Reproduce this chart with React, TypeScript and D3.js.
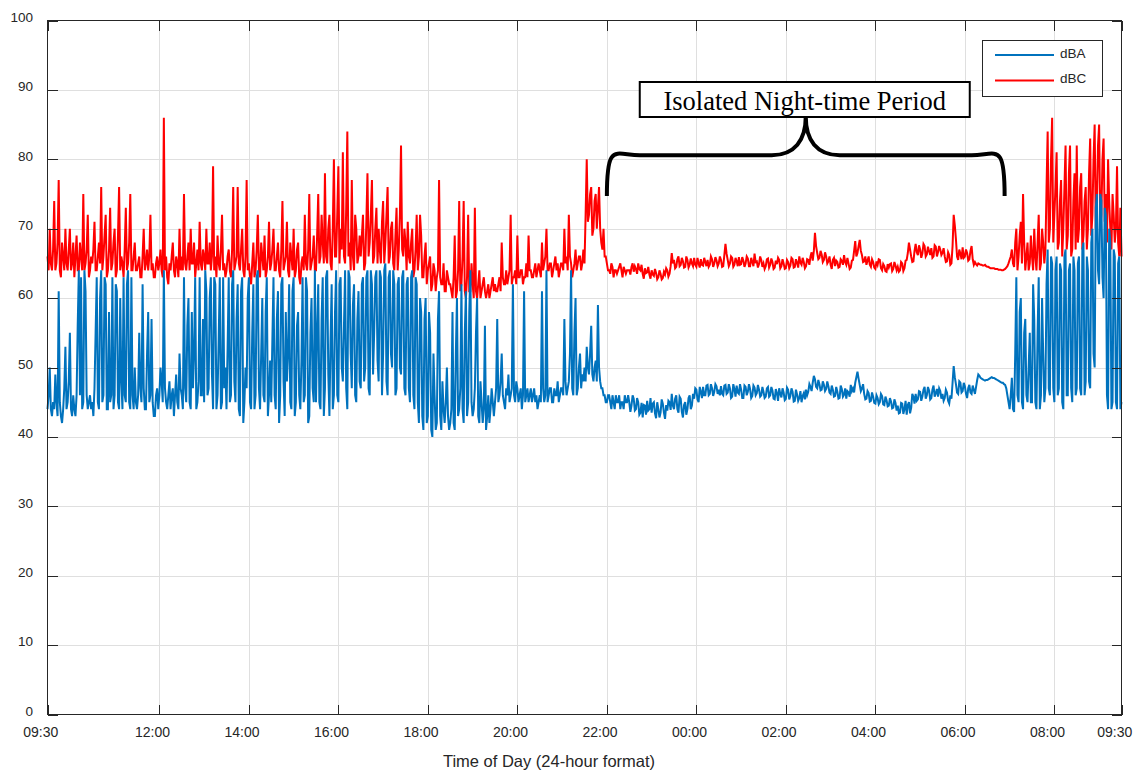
import { useEffect, useRef } from "react";
import * as d3 from "d3";

// readings every 3 minutes from 09:30 for 24 hours, plus the in-between reading (t + 1.5 min)
const SAMPLE_MINUTES = 3;

const tickMinutes = [0, 150, 270, 390, 510, 630, 750, 870, 990, 1110, 1230, 1350, 1440];
const tickLabels = ["09:30", "12:00", "14:00", "16:00", "18:00", "20:00", "22:00", "00:00", "02:00", "04:00", "06:00", "08:00", "09:30"];
const yTicks = [0, 10, 20, 30, 40, 50, 60, 70, 80, 90, 100];
const seriesNames = ["dBA", "dBC"];

// rows are one hour each (09:30, 10:30, ...)
const dBA = [
  44, 50, 43, 44, 45, 61, 43, 44, 53, 45, 55, 43, 44, 46, 64, 63, 45, 61, 44, 46,
  45, 47, 63, 44, 64, 46, 62, 44, 45, 63, 46, 61, 44, 48, 63, 45, 64, 44, 46, 50,
  44, 55, 45, 47, 44, 58, 46, 45, 43, 47, 46, 48, 64, 45, 46, 44, 47, 46, 45, 52,
  46, 63, 45, 60, 44, 47, 63, 45, 63, 46, 45, 61, 47, 63, 44, 62, 46, 63, 45, 47,
  44, 63, 46, 64, 45, 62, 43, 63, 45, 47, 63, 44, 62, 46, 64, 44, 60, 45, 63, 46,
  45, 63, 44, 61, 46, 63, 43, 48, 62, 44, 63, 45, 58, 44, 63, 46, 61, 43, 60, 45,
  45, 62, 44, 63, 47, 64, 43, 62, 46, 64, 45, 63, 48, 64, 44, 63, 47, 62, 45, 61,
  47, 63, 50, 64, 46, 62, 55, 64, 48, 63, 52, 65, 46, 64, 50, 62, 47, 63, 49, 64,
  46, 63, 45, 64, 44, 62, 42, 58, 41, 60, 43, 55, 40, 46, 42, 61, 41, 44, 45, 43,
  42, 58, 41, 60, 44, 62, 42, 61, 45, 64, 43, 47, 60, 42, 45, 44, 41, 46, 44, 45,
  45, 57, 46, 52, 45, 47, 49, 46, 62, 45, 47, 46, 44, 61, 46, 45, 47, 46, 45, 44,
  46, 61, 45, 64, 46, 47, 45, 46, 48, 46, 47, 57, 46, 48, 64, 46, 60, 47, 52, 49,
  50, 53, 49, 56, 48, 51, 59, 48, 47, 46, 45, 46, 44, 45, 46, 45, 44, 45, 46, 45,
  45, 44.5, 45.5, 44, 45, 43.5, 42.8, 44.5, 45.2, 44, 43.5, 45, 42.7, 44, 43.5, 44.8, 42.6, 43.8, 45, 46.2,
  44, 46, 43.5, 45.5, 42.8, 45, 44, 46, 44.5, 45.5, 46.8, 45, 46.5, 47.2, 46, 47.5, 46.2, 47, 46.5, 47.3,
  46.8, 47.3, 46, 47.5, 46.4, 47, 45.8, 46.9, 47.4, 46.2, 46.8, 45.6, 47.2, 46.5, 46.9, 45.9, 47.1, 46.3, 46.8, 46,
  46.5, 45.8, 47.2, 46, 46.7, 45.4, 46.3, 47, 45.7, 46.4, 45.5, 46.8, 45.9, 46.5, 45.2, 46.1, 45.6, 45, 46.3, 46.8,
  46.5, 47.2, 47.8, 48.3, 47, 47.6, 46.8, 47.5, 46.9, 47.3, 46.2, 46.8, 45.9, 46.5, 45.6, 46.9, 46.1, 45.5, 46.4, 47.5,
  47, 47.8, 49.4, 47.5, 47, 46.2, 45.5, 46.3, 45.2, 45.8, 44.8, 45.6, 45, 45.9, 44.6, 45.3, 44.5, 45.1, 44.2, 44.9,
  44.5, 43.5, 44.8, 44, 43.2, 45, 44.2, 45.8, 46.2, 45.4, 46.5, 45.8, 47.2, 46, 46.7, 45.6, 47.4, 46.3, 45.8, 46.6,
  46.2, 45.6, 46.4, 44.8, 45.5, 50.2, 47.6, 46.2, 47.8, 46.6, 47.3, 45.6, 47.5, 46.2, 46.8, 47.2, 49, 48.5, 48.3, 48.1,
  48.2, 48.4, 48.6, 48.5, 48.3, 48.1, 47.9, 47.8, 47.5, 46, 44, 48.5, 43.6, 63, 45, 60, 44, 57, 45, 55,
  45, 57, 44, 63, 46, 52, 47, 67, 46, 65, 45, 66, 47, 64, 44, 67, 46, 65, 45, 64,
  47, 66, 46, 68, 48, 64, 47, 70, 50, 75, 62, 74, 60, 72, 44, 68, 45, 66, 44, 66,
  45,
];

const dBAMid = [
  46, 44, 45, 49, 43, 45, 42, 47, 44, 48, 44, 46, 43, 56, 46, 44, 64, 46, 45, 44,
  43, 55, 45, 60, 45, 63, 44, 58, 46, 44, 62, 45, 60, 44, 46, 62, 45, 63, 44, 45,
  46, 47, 62, 44, 52, 45, 57, 43, 46, 44, 50, 45, 47, 44, 48, 46, 43, 49, 44, 47,
  44, 47, 56, 45, 58, 52, 44, 48, 46, 57, 64, 46, 60, 49, 63, 44, 54, 44, 63, 50,
  53, 45, 62, 48, 57, 44, 61, 42, 50, 60, 45, 55, 44, 63, 47, 52, 46, 58, 43, 51,
  54, 46, 57, 42, 62, 48, 58, 52, 45, 61, 43, 56, 46, 51, 45, 63, 42, 55, 47, 64,
  55, 45, 57, 43, 63, 49, 54, 44, 58, 46, 62, 50, 56, 47, 64, 52, 59, 46, 57, 48,
  62, 48, 63, 47, 64, 49, 63, 51, 64, 46, 64, 48, 63, 52, 64, 46, 62, 50, 63, 47,
  62, 47, 63, 46, 63, 45, 60, 43, 57, 42, 58, 41, 52, 41, 57, 43, 48, 42, 50, 41,
  44, 42, 52, 43, 47, 44, 55, 43, 58, 45, 44, 55, 43, 48, 42, 56, 43, 42, 47, 43,
  47, 45, 48, 46, 44, 46, 45, 47, 46, 48, 45, 47, 46, 45, 47, 46, 45, 47, 46, 45,
  45, 47, 46, 45, 47, 45, 47, 46, 45, 47, 46, 48, 47, 52, 47, 55, 46, 50, 47, 48,
  48, 50, 52, 49, 50, 48, 50, 47, 46, 45, 46, 45, 46, 44, 45, 46, 45, 44, 45, 46,
  43.6, 46, 43.8, 45.6, 43.2, 44.9, 44.6, 43.2, 43.8, 45.6, 44.8, 43.4, 45, 42.8, 45.4, 43.5, 44.6, 45.2, 43.9, 44.5,
  45.5, 44, 45.8, 43.6, 44.6, 43.2, 45.6, 44, 46.2, 47, 45.4, 47.2, 45.6, 46, 47.4, 46, 47.6, 45.9, 47.6, 46.2,
  46, 46.2, 47.4, 46.2, 47.6, 45.6, 47.6, 45.8, 46.4, 47.6, 45.6, 47.4, 46, 47.6, 45.6, 47.4, 46, 47.5, 45.8, 47.2,
  45.6, 47, 45.8, 47.2, 45.5, 46.9, 45.2, 46.2, 47, 45.3, 47.1, 45.4, 47, 45.1, 46.8, 45.2, 46.6, 45.9, 45.4, 46,
  47.6, 46.6, 48.8, 47.2, 48.2, 46.7, 48, 46.6, 48, 46.4, 47.4, 45.8, 47.2, 45.5, 47.4, 45.8, 47, 46.6, 45.8, 46.6,
  46.4, 48.6, 48.4, 46.6, 47.6, 45.4, 46.6, 45.1, 46.4, 44.9, 46, 44.7, 46.2, 44.7, 45.8, 44.4, 45.6, 44.1, 45.4, 43.8,
  43.4, 44.9, 43.3, 45.2, 44.6, 43.4, 46.2, 44.8, 45.2, 46.6, 45.2, 46.8, 45.5, 47.2, 45.4, 46.8, 45.8, 46.9, 47, 45.5,
  45.2, 46.8, 45.2, 46, 47.8, 48.6, 46.4, 48, 46.4, 47.8, 46.2, 47, 46.4, 47.4, 46.2, 48.2, 48.8, 48.4, 48.2, 48.2,
  48.3, 48.5, 48.5, 48.4, 48.2, 48, 47.8, 47.6, 47, 45, 46, 44, 52, 46, 58, 45, 55, 46, 50, 45,
  62, 45, 55, 44, 60, 45, 62, 47, 66, 47, 64, 46, 65, 45, 66, 46, 64, 47, 66, 46,
  65, 47, 67, 46, 66, 48, 68, 52, 73, 64, 75, 63, 73, 46, 70, 44, 67, 45, 65, 44,
];

const dBC = [
  66, 70, 64, 74, 65, 77, 63, 66, 70, 64, 70, 65, 63, 69, 64, 66, 75, 65, 72, 64,
  65, 71, 64, 68, 76, 66, 72, 64, 73, 65, 70, 64, 76, 66, 63, 73, 65, 75, 64, 68,
  64, 66, 63, 70, 65, 64, 72, 65, 63, 66, 65, 64, 86, 66, 62, 64, 68, 63, 65, 70,
  66, 75, 64, 68, 70, 65, 63, 67, 71, 64, 66, 70, 65, 64, 79, 66, 69, 64, 72, 65,
  64, 67, 63, 76, 65, 76, 64, 70, 63, 77, 65, 62, 68, 64, 72, 63, 66, 69, 64, 71,
  65, 70, 64, 68, 63, 74, 65, 71, 63, 66, 70, 64, 68, 62, 66, 72, 64, 75, 65, 69,
  64, 75, 66, 68, 78, 65, 72, 64, 80, 66, 79, 70, 81, 65, 84, 68, 77, 64, 70, 66,
  66, 72, 65, 78, 68, 77, 66, 73, 70, 65, 74, 68, 76, 66, 71, 64, 73, 67, 82, 66,
  68, 71, 65, 70, 64, 72, 66, 69, 63, 68, 64, 66, 62, 64, 63, 77, 62, 65, 61, 63,
  62, 60, 69, 61, 74, 62, 74, 60, 72, 61, 62, 73, 60, 64, 61, 63, 60, 62, 61, 63,
  62, 61, 63, 68, 62, 64, 63, 72, 63, 64, 69, 63, 64, 63, 65, 69, 64, 63, 65, 64,
  64, 68, 65, 70, 64, 65, 64, 66, 65, 64, 65, 70, 66, 72, 65, 64, 67, 65, 66, 65,
  65, 80, 72, 76, 70, 75, 73, 70, 67, 66, 65, 64, 65, 63, 64, 64, 65, 63, 64, 64,
  64, 64.5, 63.8, 64.2, 65, 64, 63.5, 64.3, 63.7, 63.4, 64, 63.2, 63.6, 63, 63.5, 62.9, 63.4, 64, 63.5, 66.5,
  65.5, 64.5, 66, 64.8, 65.3, 64.5, 65.5, 64.8, 65, 65.8, 64.5, 65, 65.6, 64.7, 65.2, 65.5, 64.8, 65.6, 65, 65.4,
  65, 65.5, 64.6, 67.8, 65.5, 65, 65.8, 64.8, 65.3, 65.9, 64.9, 65.4, 65, 65.7, 64.6, 65.2, 66.4, 65.3, 64.9, 65.5,
  65, 64.6, 65.7, 64.8, 65.2, 64.4, 64.9, 65.5, 64.6, 65, 64.3, 65.2, 64.7, 65.6, 64.5, 65.1, 66, 64.8, 65.2, 64.6,
  65.5, 66, 65.4, 69.4, 66.5, 65.8, 66.3, 65.5, 66, 65.3, 64.8, 65.5, 64.6, 65.2, 64.5, 65.4, 66.2, 64.8, 65, 64.4,
  65.5, 68.2, 66.5, 68.4, 66.2, 65.3, 64.8, 66, 64.5, 65.2, 64.2, 64.8, 65.5, 64, 64.6, 63.8, 64.4, 65, 64.2, 64.7,
  64.5, 64, 65, 64.3, 65.5, 68, 66, 65.3, 67.8, 66.2, 67, 66.4, 67.5, 66.3, 66.8, 67.2, 66, 67.4, 66.6, 67,
  66.5, 66, 65.3, 66.2, 65, 72, 68.5, 65.5, 66.4, 67.3, 66, 66.5, 65.6, 67.5, 64.8, 64.9, 65, 64.8, 64.7, 64.8,
  64.5, 64.4, 64.3, 64.3, 64.2, 64.1, 64.1, 64, 64.2, 64.6, 65.5, 67, 64.5, 70, 66, 71, 75, 64, 68, 65,
  66, 70, 64, 72, 65, 68, 67, 84, 70, 86, 72, 81, 68, 77, 70, 82, 69, 82, 67, 78,
  82, 70, 78, 69, 76, 70, 83, 72, 85, 74, 85, 72, 83, 75, 80, 70, 75, 68, 79, 66,
  66,
];

const dBCMid = [
  64, 65, 67, 64, 68, 64, 68, 64, 65, 67, 64, 68, 66, 64, 68, 64, 64, 67, 63, 66,
  67, 64, 66, 65, 64, 69, 63, 67, 64, 68, 63, 69, 64, 65, 67, 64, 68, 64, 66, 64,
  65, 63, 66, 64, 67, 66, 64, 63, 65, 64, 67, 63, 64, 63, 65, 66, 64, 66, 63, 64,
  64, 65, 66, 64, 65, 68, 65, 64, 65, 67, 64, 65, 68, 66, 64, 63, 65, 67, 64, 63,
  66, 64, 67, 64, 66, 65, 67, 64, 66, 64, 63, 65, 63, 67, 64, 68, 64, 63, 66, 64,
  67, 64, 66, 64, 67, 64, 66, 64, 68, 64, 63, 67, 63, 65, 64, 65, 67, 64, 66, 64,
  69, 65, 72, 65, 66, 70, 65, 70, 66, 72, 65, 67, 66, 73, 66, 64, 66, 72, 65, 69,
  69, 64, 71, 66, 72, 65, 70, 65, 67, 71, 65, 72, 65, 70, 65, 69, 64, 72, 67, 70,
  64, 66, 68, 63, 67, 64, 72, 63, 66, 62, 65, 61, 65, 61, 64, 63, 62, 61, 64, 62,
  61, 63, 60, 64, 61, 66, 61, 63, 61, 65, 60, 61, 62, 60, 62, 61, 61, 60, 62, 61,
  61, 62, 61, 63, 62, 62, 64, 62, 63, 62, 63, 64, 62, 63, 63, 64, 63, 64, 63, 65,
  63, 64, 66, 64, 65, 63, 65, 64, 63, 65, 64, 65, 64, 66, 63, 65, 64, 66, 64, 67,
  72, 71, 75, 69, 74, 70, 76, 68, 70, 66, 64, 63.5, 64.5, 64, 63.5, 64.5, 64, 64.5, 63.5, 64,
  63.4, 65, 64.6, 63.5, 64.2, 64.8, 62.8, 63.6, 64.5, 62.8, 63.4, 64.2, 62.7, 64, 62.7, 63.8, 64.3, 63.1, 64.6, 65,
  64.3, 65.6, 64.6, 65.8, 64.4, 66, 64.4, 65.7, 64.6, 64.8, 65.8, 64.4, 64.8, 65.8, 64.6, 64.5, 66, 64.5, 65.9, 64.6,
  66, 64.5, 66.2, 66.4, 64.6, 66, 64.5, 65.8, 64.6, 64.8, 65.9, 64.5, 66, 64.6, 65.8, 64.6, 65.2, 64.4, 66, 64.5,
  64.2, 65.6, 64.4, 65.7, 64.2, 65.4, 65.8, 64.3, 65.6, 64.2, 65.5, 64.3, 65.8, 64.4, 65.6, 64.4, 65.1, 65.8, 64.3, 65.6,
  64.8, 66.6, 66.8, 67.5, 65.6, 66.8, 65.2, 66.6, 65, 66, 64.2, 65.8, 65.4, 64.4, 65.6, 64.8, 65.2, 65.8, 64.2, 65.4,
  66.8, 66, 67.5, 66.8, 65.2, 66, 65.4, 64.8, 65.6, 64.4, 65.3, 65.6, 64.3, 64.9, 63.9, 64.9, 64.9, 63.9, 65.2, 64,
  63.8, 65.2, 63.9, 65.4, 66.5, 67, 65.2, 66.8, 66.6, 67.6, 65.8, 67.8, 66, 67.4, 66.2, 65.8, 67.6, 66, 67.5, 66.2,
  67.2, 65.2, 66.6, 64.8, 67.5, 70.5, 66, 67, 65.6, 65.8, 67, 65.4, 66.8, 65.6, 65.2, 64.7, 64.9, 64.8, 64.7, 64.6,
  64.5, 64.3, 64.3, 64.2, 64.2, 64.1, 64, 64.1, 64.4, 65, 66, 65, 68, 64, 69, 65, 68, 66, 64, 69,
  64, 66, 68, 64, 70, 65, 76, 68, 80, 68, 76, 67, 74, 66, 76, 67, 78, 66, 74, 67,
  68, 76, 67, 74, 67, 78, 69, 80, 70, 82, 70, 80, 71, 68, 74, 67, 72, 70, 68, 73,
];

const annotationText = "Isolated Night-time Period";
const axisTitle = "Time of Day (24-hour format)";

function toPoints(main: number[], mid: number[]): [number, number][] {
  const pts: [number, number][] = [];
  main.forEach((v, i) => {
    const t = i * SAMPLE_MINUTES;
    pts.push([t, v]);
    if (i < mid.length) pts.push([t + SAMPLE_MINUTES / 2, mid[i]]);
  });
  return pts;
}

export default function App() {
  const ref = useRef<SVGSVGElement>(null);

  useEffect(() => {
    const width = 1136;
    const height = 774;
    const margin = { top: 20.5, right: 14.5, bottom: 59.5, left: 47.5 };
    const font = "'Liberation Sans', Arial, Helvetica, sans-serif";
    const ink = "#262626";

    const svg = d3.select(ref.current);
    svg.selectAll("*").remove();

    const x = d3.scaleLinear().domain([0, 1440]).range([margin.left, width - margin.right]);
    const y = d3.scaleLinear().domain([0, 100]).range([height - margin.bottom, margin.top]);
    const [x0, x1] = x.range();
    const [y0, y1] = y.range();

    // grid
    const grid = svg.append("g").attr("stroke", "#dfdfdf").attr("stroke-width", 1).attr("shape-rendering", "crispEdges");
    grid.selectAll("line.v").data(tickMinutes.slice(1, -1)).join("line")
      .attr("class", "v")
      .attr("x1", (d) => Math.round(x(d)) + 0.5).attr("x2", (d) => Math.round(x(d)) + 0.5)
      .attr("y1", y1).attr("y2", y0);
    grid.selectAll("line.h").data(yTicks.slice(1, -1)).join("line")
      .attr("class", "h")
      .attr("x1", x0).attr("x2", x1)
      .attr("y1", (d) => Math.round(y(d)) + 0.5).attr("y2", (d) => Math.round(y(d)) + 0.5);

    // data
    const line = d3.line<[number, number]>()
      .x((d) => x(d[0]))
      .y((d) => y(d[1]));
    const colors: Record<string, string> = { dBA: "#0072BD", dBC: "#FF0000" };
    svg.append("path").datum(toPoints(dBC, dBCMid)).attr("d", line).attr("fill", "none")
      .attr("stroke", colors.dBC).attr("stroke-width", 2);
    svg.append("path").datum(toPoints(dBA, dBAMid)).attr("d", line).attr("fill", "none")
      .attr("stroke", colors.dBA).attr("stroke-width", 2);

    // axes box + inward ticks on all sides
    const axes = svg.append("g").attr("stroke", ink).attr("stroke-width", 1).attr("shape-rendering", "crispEdges");
    axes.append("rect").attr("x", x0).attr("y", y1).attr("width", x1 - x0).attr("height", y0 - y1).attr("fill", "none");
    const tl = 10;
    tickMinutes.forEach((t) => {
      const px = Math.round(x(t)) + 0.5;
      axes.append("line").attr("x1", px).attr("x2", px).attr("y1", y0).attr("y2", y0 - tl);
      axes.append("line").attr("x1", px).attr("x2", px).attr("y1", y1).attr("y2", y1 + tl);
    });
    yTicks.forEach((v) => {
      const py = Math.round(y(v)) + 0.5;
      axes.append("line").attr("x1", x0).attr("x2", x0 + tl).attr("y1", py).attr("y2", py);
      axes.append("line").attr("x1", x1).attr("x2", x1 - tl).attr("y1", py).attr("y2", py);
    });

    // tick labels
    svg.append("g").selectAll("text").data(yTicks).join("text")
      .attr("x", 33).attr("y", (d) => y(d) - 3.5).attr("dy", "0.35em")
      .attr("text-anchor", "end").attr("font-family", font).attr("font-size", 13.5).attr("fill", ink)
      .text((d) => d);
    svg.append("g").selectAll("text").data(tickMinutes).join("text")
      .attr("x", (d) => x(d) - 6.8).attr("y", y0 + 22)
      .attr("text-anchor", "middle").attr("font-family", font).attr("font-size", 14).attr("fill", ink)
      .text((_, i) => tickLabels[i]);
    svg.append("text").attr("x", 549).attr("y", y0 + 52)
      .attr("text-anchor", "middle").attr("font-family", font).attr("font-size", 16.5).attr("fill", ink)
      .text(axisTitle);

    // legend
    const lg = svg.append("g");
    lg.append("rect").attr("x", 982.5).attr("y", 40.5).attr("width", 120).attr("height", 56)
      .attr("fill", "#fff").attr("stroke", ink).attr("stroke-width", 1).attr("shape-rendering", "crispEdges");
    seriesNames.forEach((name, i) => {
      const ly = 55 + i * 25.5;
      lg.append("line").attr("x1", 995).attr("x2", 1054).attr("y1", ly).attr("y2", ly)
        .attr("stroke", colors[name]).attr("stroke-width", 2);
      lg.append("text").attr("x", 1060).attr("y", ly - 2).attr("dy", "0.35em")
        .attr("font-family", font).attr("font-size", 13.5).attr("fill", ink).text(name);
    });

    // night-time brace annotation
    const bl = x(750);
    const br = x(1290) - 5;
    const bm = (bl + br) / 2;
    const by = y(80.6);
    const bEnd = y(74.7);
    const bTop = y0 - 598;
    const brace = `M${bl},${bEnd} C${bl},${by - 14} ${bl + 8},${by} ${bl + 33},${by}`
      + ` L${bm - 34},${by} C${bm - 11},${by} ${bm},${by - 15} ${bm},${bTop}`
      + ` C${bm},${by - 15} ${bm + 11},${by} ${bm + 34},${by}`
      + ` L${br - 33},${by} C${br - 8},${by} ${br},${by - 14} ${br},${bEnd}`;
    svg.append("path").attr("d", brace).attr("fill", "none").attr("stroke", "#000").attr("stroke-width", 4);
    svg.append("rect").attr("x", bm - 166).attr("y", 82).attr("width", 330).attr("height", 35)
      .attr("fill", "#fff").attr("stroke", "#000").attr("stroke-width", 2);
    svg.append("text").attr("x", bm - 1).attr("y", 109.5)
      .attr("text-anchor", "middle").attr("font-family", "'Liberation Serif', 'Times New Roman', serif")
      .attr("font-size", 26.5).attr("fill", "#000").text(annotationText);
  }, []);

  return (
    <svg
      ref={ref}
      width={1136}
      height={774}
      style={{ position: "absolute", left: 0, top: 0, background: "#fff" }}
    />
  );
}
